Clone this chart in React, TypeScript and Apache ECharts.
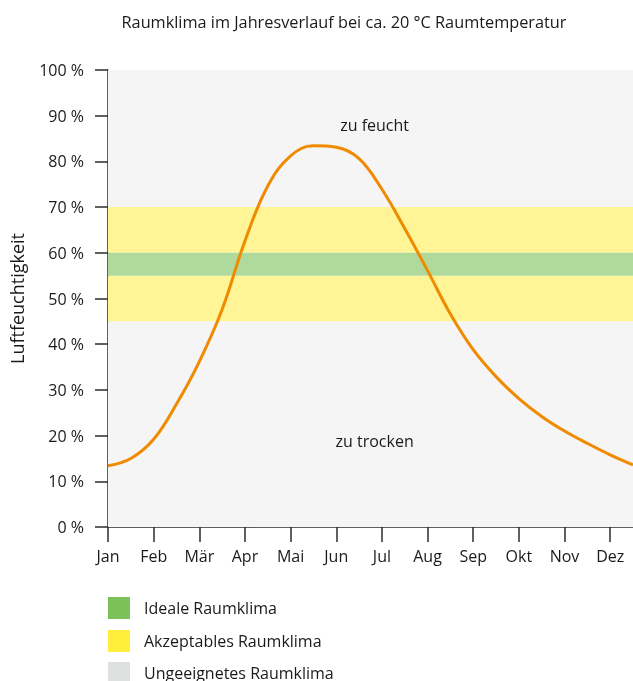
import React, { useEffect, useRef } from "react";
import * as echarts from "echarts";

const title = "Raumklima im Jahresverlauf bei ca. 20 °C Raumtemperatur";
const months = ["Jan", "Feb", "Mär", "Apr", "Mai", "Jun", "Jul", "Aug", "Sep", "Okt", "Nov", "Dez"];
const monthPos = [0, 1, 2, 3, 4, 5, 6, 7, 8, 9, 10, 11];
const yTicks = [0, 10, 20, 30, 40, 50, 60, 70, 80, 90, 100];
const curveX = [0, 0.5, 1, 1.5, 2, 2.5, 3, 3.5, 4, 4.5, 5, 5.5, 6, 6.5, 7, 7.5, 8, 8.5, 9, 9.5, 10, 10.5, 11, 11.5];
const curveY = [13.4, 15.0, 19.2, 26.9, 36.2, 47.6, 62.6, 74.6, 81.2, 83.4, 83.1, 80.6, 73.9, 65.3, 56.1, 46.6, 38.8, 32.9, 28.1, 24.2, 21.0, 18.3, 15.8, 13.6];
const bandNames = ["Ideale Raumklima", "Akzeptables Raumklima", "Ungeeignetes Raumklima"];
const bandLegendColors = ["#7cc05a", "#ffef3c", "#dfe1e0"];
const idealBand = [[55, 60]];
const acceptBand = [[45, 55], [60, 70]];
const unsuitBand = [[0, 45], [70, 100]];
const notes = [
  { text: "zu feucht", x: 5.84, y: 88 },
  { text: "zu trocken", x: 5.84, y: 18.8 },
];

const FONT = "Open Sans";
const INK = "#1a1a1a";

export default function App() {
  const ref = useRef<HTMLDivElement>(null);
  useEffect(() => {
    if (!ref.current) return;
    const chart = echarts.init(ref.current, undefined, { renderer: "svg" });
    const bandSeries = (name: string, color: string, area: string, ranges: number[][]) => ({
      name,
      type: "line",
      data: [],
      z: 1,
      itemStyle: { color },
      lineStyle: { color },
      markArea: {
        silent: true,
        itemStyle: { color: area },
        data: ranges.map((r) => [{ yAxis: r[0] }, { yAxis: r[1] }]),
      },
    });
    const legendTops = [597, 630, 662];
    chart.setOption({
      animation: false,
      textStyle: { fontFamily: FONT },
      title: {
        text: title,
        left: 339,
        textAlign: "center",
        top: 9,
        textStyle: { fontFamily: FONT, fontSize: 16.3, fontWeight: "normal", color: INK },
      },
      legend: bandNames.map((n, i) => ({
        orient: "vertical",
        left: 108,
        top: legendTops[i],
        itemWidth: 22,
        itemHeight: 22,
        icon: "rect",
        data: [n],
        padding: 0,
        textStyle: { fontFamily: FONT, fontSize: 16, color: INK, padding: [0, 0, 0, 9] },
        selectedMode: false,
      })),
      grid: { left: 108, top: 70, right: 0, bottom: 154, containLabel: false, outerBoundsMode: "none" },
      xAxis: {
        type: "value",
        min: 0,
        max: 11.5,
        interval: 1,
        splitLine: { show: false },
        axisLine: { lineStyle: { color: "#2b2b2b", width: 1.5 } },
        axisTick: { length: 15, customValues: monthPos, lineStyle: { color: "#2b2b2b", width: 1.5 } },
        axisLabel: {
          customValues: monthPos,
          formatter: (v: number) => months[Math.round(v)] ?? "",
          fontFamily: FONT,
          fontSize: 16,
          color: INK,
          margin: 21,
        },
      },
      yAxis: {
        type: "value",
        min: 0,
        max: 100,
        interval: 10,
        name: "Luftfeuchtigkeit",
        nameLocation: "middle",
        nameGap: 82,
        nameTextStyle: { fontFamily: FONT, fontSize: 18, color: INK },
        splitLine: { show: false },
        axisLine: { show: true, lineStyle: { color: "#2b2b2b", width: 1.5 } },
        axisTick: { show: true, length: 13, customValues: yTicks, lineStyle: { color: "#2b2b2b", width: 1.5 } },
        axisLabel: {
          formatter: (v: number) => `${v} %`,
          fontFamily: FONT,
          fontSize: 16,
          color: INK,
          margin: 24,
        },
      },
      series: [
        bandSeries(bandNames[2], bandLegendColors[2], "#f4f5f4", unsuitBand),
        bandSeries(bandNames[1], bandLegendColors[1], "#fff596", acceptBand),
        bandSeries(bandNames[0], bandLegendColors[0], "#b0da9b", idealBand),
        {
          name: "Verlauf",
          type: "line",
          z: 5,
          smooth: 0.4,
          showSymbol: false,
          lineStyle: { color: "#f08a00", width: 3 },
          itemStyle: { color: "#f08a00" },
          data: curveX.map((x, i) => [x, curveY[i]]),
          markPoint: {
            symbol: "circle",
            symbolSize: 0,
            silent: true,
            label: {
              show: true,
              position: "inside",
              fontFamily: FONT,
              fontSize: 16,
              color: INK,
              formatter: (p: any) => p.name,
            },
            data: notes.map((n) => ({ name: n.text, coord: [n.x, n.y] })),
          },
        },
      ],
    });
    return () => chart.dispose();
  }, []);
  return <div ref={ref} style={{ position: "fixed", left: 0, top: 0, width: 633, height: 681 }} />;
}
